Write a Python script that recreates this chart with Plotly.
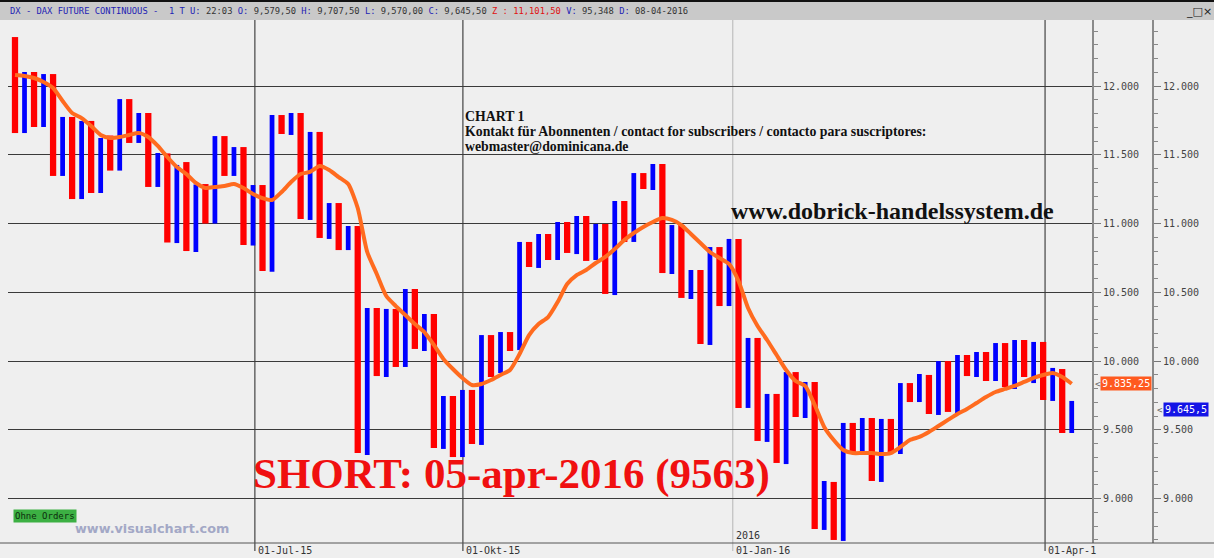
import plotly.graph_objects as go

# ---------------- data ----------------
bar_high = [12356,12102,12102,12087,12087,11775,11775,11746,11746,11622,
            11640,11905,11905,11804,11804,11513,11510,11426,11447,11284,
            11287,11636,11636,11556,11556,11280,11280,11789,11789,11804,
            11804,11666,11666,11149,11149,10982,10982,10386,10386,10379,
            10379,10524,10524,10342,10342,9746,9746,9790,9790,10189,
            10189,10211,10211,10866,10866,10924,10924,11011,11011,11055,
            11055,10997,10997,11164,11164,11367,11367,11433,11433,10989,
            10989,10662,10662,10829,10829,10888,10888,10168,10168,9761,
            9761,9920,9920,9848,9848,9128,9121,9550,9550,9586,
            9586,9579,9579,9840,9840,9906,9899,10000,10000,10044,
            10044,10066,10066,10131,10131,10153,10153,10139,10139,9950,
            9942,9710]

bar_low = [11658,11658,11702,11702,11346,11346,11178,11178,11222,11222,
           11385,11385,11586,11586,11266,11266,10862,10858,10800,10793,
           11000,11000,11346,11346,10844,10840,10655,10650,11651,11644,
           11033,11026,10895,10888,10807,10807,9331,9317,9891,9884,
           9957,9957,10088,10073,9368,9361,9302,9302,9397,9390,
           9884,9913,10073,10080,10684,10677,10735,10735,10786,10778,
           10728,10735,10488,10480,10866,10866,11251,11244,10640,10633,
           10459,10451,10124,10117,10400,10400,9659,9659,9419,9412,
           9259,9251,9593,9586,8779,8772,8699,8692,9339,9339,
           9128,9121,9331,9324,9702,9702,9615,9608,9630,9622,
           9891,9884,9855,9855,9811,9797,9884,9840,9717,9710,
           9477,9477]

# D = down (red) bar, U = up (blue) bar
bar_dir = list("DU" * 56)

ma_values = [12080,12073,12058,12029,11985,11891,11804,11767,11709,11644,
             11622,11629,11644,11658,11629,11564,11484,11411,11360,11295,
             11258,11266,11273,11287,11258,11215,11185,11171,11229,11302,
             11360,11375,11418,11389,11338,11287,11113,10793,10633,10473,
             10400,10335,10269,10211,10117,10015,9942,9877,9826,9833,
             9862,9899,9935,10051,10189,10269,10320,10429,10560,10625,
             10662,10713,10757,10815,10880,10931,10975,11011,11040,11026,
             10989,10924,10858,10793,10749,10706,10582,10386,10255,10153,
             10044,9935,9855,9819,9681,9521,9426,9353,9331,9331,
             9331,9324,9331,9375,9426,9448,9484,9528,9572,9615,
             9651,9695,9739,9775,9797,9819,9848,9877,9899,9913,
             9884,9835]

date_labels = ["01-Jul-15", "01-Okt-15", "01-Jan-16", "01-Apr-1"]
date_index = [25.2, 47.05, 75.4, 108.2]

ma_last = 9835.25
last_close = 9645.5
header_parts = [("DX - DAX FUTURE CONTINUOUS -\u00a0\u00a01 T U:", "blue"), (" 22:03 ", "dark"),
                ("O:", "blue"), (" 9,579,50 ", "dark"), ("H:", "blue"), (" 9,707,50 ", "dark"),
                ("L:", "blue"), (" 9,570,00 ", "dark"), ("C:", "blue"), (" 9,645,50 ", "dark"),
                ("Z : 11,101,50", "red"), (" ", "dark"), ("V:", "blue"), (" 95,348 ", "dark"),
                ("D:", "blue"), (" 08-04-2016", "dark")]

# ---------------- layout helpers ----------------
W, H = 1214, 558
ML, MR, MT, MB = 8, 54, 20, 15
PW, PH = W - ML - MR, H - MT - MB
AX1 = 1092
AX2 = 1153


def px(xp):
    return (xp - ML) / PW


def py(yp):
    return (H - MB - yp) / PH


n = len(bar_high)
idx = list(range(n))
down = [i for i in idx if bar_dir[i] == "D"]
up = [i for i in idx if bar_dir[i] == "U"]

YR = [8677, 12480]
XR = [(8 - 15) / 9.52, (AX1 - 15) / 9.52]

fig = go.Figure()
fig.add_trace(go.Bar(x=down, y=[bar_high[i] - bar_low[i] for i in down],
                     base=[bar_low[i] for i in down], width=0.66,
                     marker=dict(color="#ff0000", line=dict(width=0)),
                     showlegend=False, hoverinfo="skip"))
fig.add_trace(go.Bar(x=up, y=[bar_high[i] - bar_low[i] for i in up],
                     base=[bar_low[i] for i in up], width=0.5,
                     marker=dict(color="#0000ff", line=dict(width=0)),
                     showlegend=False, hoverinfo="skip"))
fig.add_trace(go.Scatter(x=idx, y=ma_values, mode="lines",
                         line=dict(color="#ff6b1f", width=4, shape="spline", smoothing=0.6),
                         showlegend=False, hoverinfo="skip"))
fig.add_trace(go.Scatter(x=idx, y=bar_high, yaxis="y2", mode="lines",
                         line=dict(width=0, color="rgba(0,0,0,0)"),
                         showlegend=False, hoverinfo="skip"))

mono = "DejaVu Sans Mono"
yaxis_common = dict(range=YR, dtick=500, tick0=0, tickformat=",.0f",
                    ticks="outside", ticklen=7, tickcolor="#777", tickwidth=1,
                    showline=True, linecolor="#8a8a8a", linewidth=2,
                    tickfont=dict(family=mono, size=10, color="#444"),
                    minor=dict(dtick=100, ticks="outside", ticklen=4, tickcolor="#888", showgrid=False),
                    zeroline=False, fixedrange=True)

fig.update_layout(
    width=W, height=H,
    margin=dict(l=ML, r=MR, t=MT, b=MB),
    paper_bgcolor="#efefef", plot_bgcolor="#efefef",
    separators=",.",
    barmode="overlay",
    xaxis=dict(domain=[0, px(AX1)], range=XR, showgrid=False, showticklabels=False,
               ticks="", zeroline=False, showline=False, fixedrange=True),
    yaxis=dict(side="right", showgrid=True, gridcolor="#3a3a3a", gridwidth=1, **yaxis_common),
    yaxis2=dict(overlaying="y", side="right", anchor="free", position=px(AX2),
                showgrid=False, **yaxis_common),
)

shapes = []
# header bar and top border
shapes.append(dict(type="rect", xref="paper", yref="paper", x0=px(0), x1=px(W),
                   y0=py(20), y1=py(2), fillcolor="#c9c9c9", line=dict(width=0), layer="above"))
shapes.append(dict(type="rect", xref="paper", yref="paper", x0=px(0), x1=px(W),
                   y0=py(2), y1=py(0), fillcolor="#111", line=dict(width=0), layer="above"))
# bottom axis line
shapes.append(dict(type="line", xref="paper", yref="paper", x0=px(0), x1=px(W),
                   y0=0, y1=0, line=dict(color="#555", width=1)))
# date lines
for lab, xi in zip(date_labels, date_index):
    col = "#b5b5b5" if "Jan" in lab else "#222"
    shapes.append(dict(type="line", xref="x", yref="paper", x0=xi, x1=xi,
                       y0=py(551), y1=1, line=dict(color=col, width=1), layer="below"))
fig.update_layout(shapes=shapes)

ann = []
colmap = {"blue": "#2323b4", "dark": "#333", "red": "#e01010"}
htxt = "".join(f"<span style='color:{colmap[c]}'>{t.replace(' ', chr(160))}</span>" for t, c in header_parts)
ann.append(dict(text=htxt, xref="paper", yref="paper", x=px(8), y=py(11.5), xanchor="left",
                yanchor="middle", showarrow=False, font=dict(family=mono, size=8.8, color="#333")))
ann.append(dict(text="_\u25a1\u00d7", xref="paper", yref="paper", x=px(1184), y=py(11.5),
                xanchor="left", yanchor="middle", showarrow=False,
                font=dict(family="DejaVu Sans", size=11, color="#222")))
for lab, xi in zip(date_labels, date_index):
    ann.append(dict(text=lab, xref="x", yref="paper", x=xi, y=py(550), xanchor="left",
                    yanchor="middle", xshift=1, showarrow=False,
                    font=dict(family=mono, size=10, color="#333")))
ann.append(dict(text="2016", xref="x", yref="paper", x=date_index[2], y=py(535), xanchor="left",
                yanchor="middle", xshift=1, showarrow=False, font=dict(family=mono, size=10, color="#333")))

serif = "Liberation Serif"
ann.append(dict(text="<b>CHART 1</b>", xref="paper", yref="paper", x=px(463), y=py(116),
                xanchor="left", yanchor="middle", showarrow=False,
                font=dict(family=serif, size=13.8, color="#111")))
ann.append(dict(text="<b>Kontakt für Abonnenten / contact for subscribers / contacto para suscriptores:</b>",
                xref="paper", yref="paper", x=px(463), y=py(131), xanchor="left", yanchor="middle",
                showarrow=False, font=dict(family=serif, size=13.8, color="#111")))
ann.append(dict(text="<b>webmaster@dominicana.de</b>", xref="paper", yref="paper", x=px(463), y=py(147),
                xanchor="left", yanchor="middle", showarrow=False,
                font=dict(family=serif, size=13.8, color="#111")))
ann.append(dict(text="<b>www.dobrick-handelssystem.de</b>", xref="paper", yref="paper", x=px(729),
                y=py(211), xanchor="left", yanchor="middle", showarrow=False,
                font=dict(family=serif, size=24, color="#111")))
ann.append(dict(text="<b>SHORT: 05-apr-2016 (9563)</b>", xref="paper", yref="paper", x=px(251),
                y=py(474), xanchor="left", yanchor="middle", showarrow=False,
                font=dict(family=serif, size=43, color="#f01010")))
ann.append(dict(text="Ohne Orders", xref="paper", yref="paper", x=px(13), y=py(515.5),
                xanchor="left", yanchor="middle", showarrow=False, bgcolor="#3cb043", borderpad=1,
                font=dict(family=mono, size=9, color="#0d2d0d")))
ann.append(dict(text="<b>www.visualchart.com</b>", xref="paper", yref="paper", x=px(73), y=py(528),
                xanchor="left", yanchor="middle", showarrow=False,
                font=dict(family="DejaVu Sans", size=12.8, color="#a3a8c6")))
# price tags
ann.append(dict(text="9.835,25", xref="paper", yref="y", x=px(1100), y=ma_last, xanchor="left",
                yanchor="middle", showarrow=False, bgcolor="#ff5a1f", borderpad=1,
                font=dict(family=mono, size=10, color="white")))
ann.append(dict(text="<", xref="paper", yref="y", x=px(1093), y=ma_last, xanchor="left",
                yanchor="middle", showarrow=False, font=dict(family=mono, size=9, color="#666")))
ann.append(dict(text="9.645,5", xref="paper", yref="y", x=px(1163), y=last_close, xanchor="left",
                yanchor="middle", showarrow=False, bgcolor="#1414e6", borderpad=1,
                font=dict(family=mono, size=10, color="white")))
ann.append(dict(text="<", xref="paper", yref="y", x=px(1155), y=last_close, xanchor="left",
                yanchor="middle", showarrow=False, font=dict(family=mono, size=9, color="#666")))
fig.update_layout(annotations=ann)

fig.write_html("out.html", config={"displayModeBar": False},
               post_script="document.body.style.margin='0';document.body.style.padding='0';"
                           "document.body.style.overflow='hidden';")
